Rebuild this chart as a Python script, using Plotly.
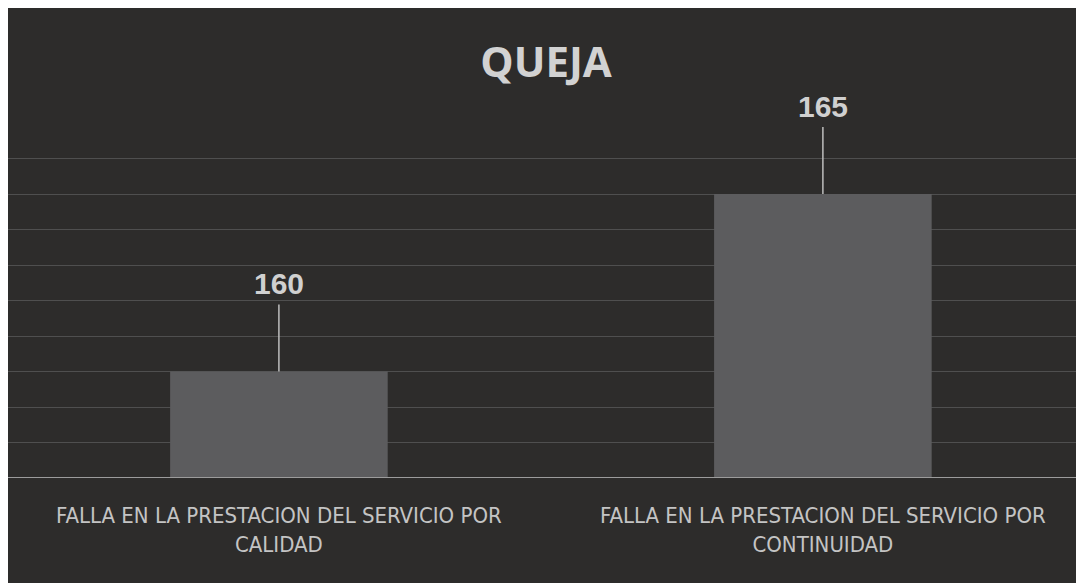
import plotly.graph_objects as go

categories = ["FALLA EN LA PRESTACION DEL SERVICIO POR<br>CALIDAD",
              "FALLA EN LA PRESTACION DEL SERVICIO POR<br>CONTINUIDAD"]
values = [160, 165]
title_text = "QUEJA"

# page has an 8px body margin, so the figure is sized to fit inside it
W, H = 1076, 575
bg = "#2d2c2b"
xs = list(range(len(categories)))

fig = go.Figure()
fig.add_trace(go.Bar(
    x=xs, y=values, width=0.4,
    marker=dict(color="#5c5c5e", line=dict(width=0)),
    hoverinfo="skip", showlegend=False,
))

for xi, v in zip(xs, values):
    fig.add_annotation(
        x=xi, y=v, xref="x", yref="y",
        text=f"<b>{v}</b>", showarrow=True, arrowhead=0, arrowwidth=1.5,
        arrowcolor="#bdbdbd", ax=0, ay=-88, standoff=0, startstandoff=3,
        font=dict(family="Liberation Sans, Arial, sans-serif", size=30, color="#d0d0d0"),
    )

fig.update_layout(
    width=W, height=H,
    margin=dict(l=0, r=0, t=147, b=105),
    paper_bgcolor=bg, plot_bgcolor=bg,
    title=dict(text=f"<b>{title_text}</b>", x=0.5, xref="paper", xanchor="center",
               y=1 - 54 / H, yanchor="middle", yref="container",
               font=dict(family="Open Sans, Lato, sans-serif", size=42, color="#d2d2d2")),
    xaxis=dict(tickmode="array", tickvals=xs, ticktext=categories,
               range=[-0.498, 1.48], showgrid=False, zeroline=False,
               showline=False, ticks="", ticklabelstandoff=22,
               tickfont=dict(family="DejaVu Sans Condensed, DejaVu Sans, sans-serif", size=22, color="#c4c4c4")),
    yaxis=dict(range=[157, 166.1], dtick=1, showticklabels=False, ticks="",
               showgrid=True, gridcolor="#4f4f4f", gridwidth=1, zeroline=False,
               showline=False),
    shapes=[
        dict(type="line", xref="paper", yref="y", x0=0, x1=1, y0=157, y1=157,
             line=dict(color="#9c9c9c", width=2), layer="above"),
    ],
)

fig.write_html("out.html")
